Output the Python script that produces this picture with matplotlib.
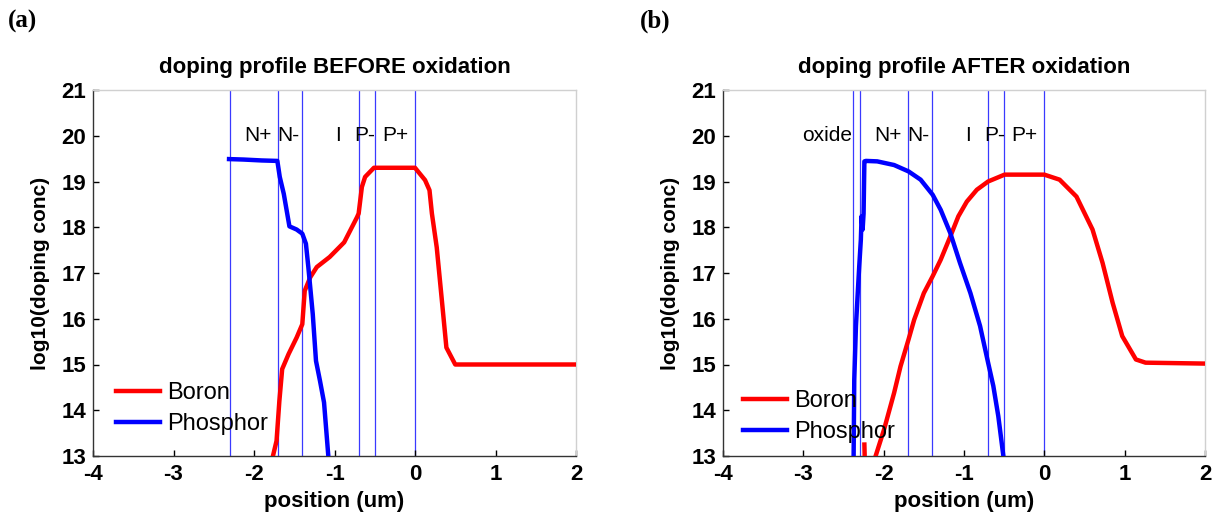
import numpy as np
import matplotlib
matplotlib.use("Agg")
import matplotlib.pyplot as plt

# ---------------- data ----------------
# Panel (a): before oxidation
a_boron_x = [-1.77, -1.72, -1.685, -1.65, -1.57, -1.47, -1.40, -1.37, -1.30, -1.22,
             -1.06, -0.88, -0.72, -0.70, -0.66, -0.62, -0.51, 0.0, 0.06, 0.125,
             0.18, 0.21, 0.27, 0.33, 0.39, 0.50, 2.0]
a_boron_y = [12.96, 13.33, 14.20, 14.90, 15.23, 15.59, 15.88, 16.61, 16.91, 17.13,
             17.35, 17.67, 18.22, 18.30, 18.88, 19.10, 19.30, 19.30, 19.17, 19.03,
             18.81, 18.30, 17.56, 16.47, 15.37, 15.00, 15.00]
a_phos_x = [-2.31, -2.13, -1.905, -1.71, -1.68, -1.63, -1.56, -1.47, -1.40, -1.355,
            -1.325, -1.27, -1.23, -1.18, -1.13, -1.075]
a_phos_y = [19.49, 19.48, 19.46, 19.45, 19.10, 18.73, 18.02, 17.95, 17.86, 17.64,
            17.13, 16.10, 15.08, 14.64, 14.17, 12.96]

# Panel (b): after oxidation
b_boron_x = [-2.24, -2.235, np.nan, -2.10, -1.995, -1.87, -1.79, -1.69, -1.62, -1.50,
             -1.39, -1.29, -1.17, -1.07, -0.965, -0.84, -0.70, -0.495, 0.0, 0.19,
             0.40, 0.60, 0.725, 0.85, 0.97, 1.14, 1.26, 2.0]
b_boron_y = [13.25, 12.90, np.nan, 13.0, 13.58, 14.38, 14.96, 15.55, 15.98, 16.56,
             16.93, 17.29, 17.80, 18.24, 18.56, 18.82, 19.00, 19.15, 19.15, 19.04,
             18.67, 17.95, 17.22, 16.35, 15.62, 15.11, 15.04, 15.02]
b_phos_x = [-2.374, -2.366, -2.345, -2.325, -2.304, -2.284, -2.275, -2.262, -2.25,
            -2.24, -2.22, -2.08, -1.87, -1.69, -1.54, -1.39, -1.29, -1.17, -1.05,
            -0.92, -0.80, -0.70, -0.635, -0.573, -0.51]
b_phos_y = [13.0, 14.67, 15.84, 16.49, 17.15, 17.73, 18.24, 17.95, 18.30,
            19.44, 19.45, 19.44, 19.36, 19.22, 19.04, 18.71, 18.38, 17.87, 17.22,
            16.56, 15.84, 15.04, 14.53, 13.87, 13.0]

a_region_lines = [-2.3, -1.7, -1.4, -0.7, -0.5, 0.0]
b_region_lines = [-2.38, -2.3, -1.7, -1.4, -0.7, -0.5, 0.0]

region_labels = ["N+", "N-", "I", "P-", "P+"]
region_label_x = [-2.12, -1.71, -0.99, -0.75, -0.41]
oxide_label = "oxide"
oxide_label_x = -3.02
label_y = 20.0

titles = ["doping profile BEFORE oxidation", "doping profile AFTER oxidation"]
panel_tags = ["(a)", "(b)"]
xticks = [-4, -3, -2, -1, 0, 1, 2]
yticks = [13, 14, 15, 16, 17, 18, 19, 20, 21]

# ---------------- figure ----------------
plt.rcParams['font.family'] = ['Liberation Sans', 'DejaVu Sans']
fig = plt.figure(figsize=(12.21, 5.18), dpi=100)

ax_rects = [[93/1221, 62/518, 483/1221, 366/518],
            [723/1221, 62/518, 482/1221, 366/518]]
legend_anchor = [(0.0476, 0.058), (0.0415, 0.036)]
tag_x = [8/1221, 640/1221]

panels = [
    (a_boron_x, a_boron_y, a_phos_x, a_phos_y, a_region_lines, False),
    (b_boron_x, b_boron_y, b_phos_x, b_phos_y, b_region_lines, True),
]

for i, (bx, by, px, py, rl, has_oxide) in enumerate(panels):
    ax = fig.add_axes(ax_rects[i])
    for xv in rl:
        ax.axvline(xv, color='#3a3aff', lw=0.9, zorder=1)
    ax.plot(bx, by, color='#ff0000', lw=3.2, label='Boron', zorder=3)
    ax.plot(px, py, color='#0000ff', lw=3.2, label='Phosphor', zorder=3)
    ax.set_xlim(-4, 2)
    ax.set_ylim(13, 21)
    ax.set_xticks(xticks)
    ax.set_yticks(yticks)
    ax.set_xticklabels([str(t) for t in xticks], fontweight='bold', fontsize=16)
    ax.set_yticklabels([str(t) for t in yticks], fontweight='bold', fontsize=16)
    ax.tick_params(direction='in', length=4, width=1, top=False, right=False)
    ax.tick_params(axis='x', pad=6)
    ax.tick_params(axis='y', pad=5)
    ax.spines['left'].set_color('#333333')
    ax.spines['bottom'].set_color('#333333')
    ax.spines['top'].set_color('#d0d0d0')
    ax.spines['right'].set_color('#d0d0d0')
    for s in ax.spines.values():
        s.set_linewidth(1.0)
    ax.set_xlabel('position (um)', fontweight='bold', fontsize=16, labelpad=4)
    ax.set_ylabel('log10(doping conc)', fontweight='bold', fontsize=15, labelpad=8)
    ax.set_title(titles[i], fontweight='bold', fontsize=16, pad=12)
    for lab, lx in zip(region_labels, region_label_x):
        ax.text(lx, label_y, lab, fontsize=15, ha='left', va='center')
    if has_oxide:
        ax.text(oxide_label_x, label_y, oxide_label, fontsize=15, ha='left', va='center')
    ax.legend(loc='lower left', frameon=False, fontsize=17, handlelength=1.85,
              handletextpad=0.3, labelspacing=0.36, borderpad=0.0, borderaxespad=0.0,
              bbox_to_anchor=legend_anchor[i])
    fig.text(tag_x[i], 1 - 21/518, panel_tags[i],
             family=['Liberation Serif', 'DejaVu Serif'], fontweight='bold', fontsize=18,
             ha='left', va='center')

fig.savefig('out.png', dpi=100)
